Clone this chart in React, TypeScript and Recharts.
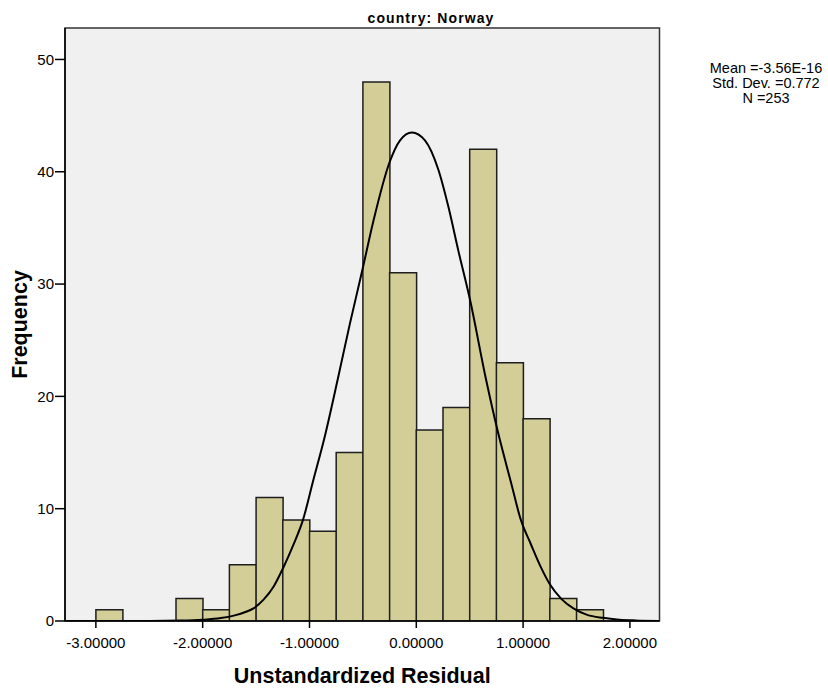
import React from 'react';
import {
  ComposedChart,
  Bar,
  Line,
  XAxis,
  YAxis,
  CartesianGrid,
  ReferenceArea,
  Label,
} from 'recharts';

// Histogram bins (lower edge of each 0.25-wide bin) and frequencies
const binStarts = [-3.0, -2.75, -2.5, -2.25, -2.0, -1.75, -1.5, -1.25, -1.0, -0.75, -0.5, -0.25, 0, 0.25, 0.5, 0.75, 1.0, 1.25, 1.5];
const binCounts = [1, 0, 0, 2, 1, 5, 11, 9, 8, 15, 48, 31, 17, 19, 42, 23, 18, 2, 1];

// Normal curve, points
const curveX = [-3.289, -2.5, -2.2, -2.0, -1.83, -1.7, -1.6, -1.52, -1.43, -1.334, -1.248, -1.15, -1.061, -0.968, -0.855, -0.736, -0.621, -0.511, -0.402, -0.252, -0.152, -0.041, 0.081, 0.206, 0.3, 0.393, 0.503, 0.653, 0.765, 0.885, 0.979, 1.07, 1.166, 1.252, 1.36, 1.475, 1.6, 1.748, 1.9, 2.05, 2.277];
const curveY = [0, 0.005, 0.035, 0.11, 0.26, 0.5, 0.8, 1.15, 1.9, 3.1, 4.7, 6.8, 9.0, 12.4, 16.5, 21.5, 26.5, 31.0, 35.6, 40.8, 42.8, 43.5, 42.8, 40.2, 36.9, 33.0, 28.6, 21.5, 16.8, 12.4, 9.0, 6.9, 4.8, 3.25, 1.95, 1.1, 0.55, 0.28, 0.12, 0.05, 0.01];

const xTicks = [-3, -2, -1, 0, 1, 2];
const yTicks = [0, 10, 20, 30, 40, 50];
const xDomain = [-3.289, 2.277];
const yDomain = [0, 52.8];

const titleText = 'country: Norway';
const statsLines = ['Mean =-3.56E-16', 'Std. Dev. =0.772', 'N =253'];
const xTitle = 'Unstandardized Residual';
const yTitle = 'Frequency';

const binData = binStarts.map((b, i) => ({ bin: String(b), count: binCounts[i] }));
const curveData = curveX.map((x, i) => ({ x, y: curveY[i] }));

const FONT = '"Liberation Sans", Arial, Helvetica, sans-serif';

export default function App() {
  return (
    <div style={{ position: 'absolute', left: 0, top: 0, width: 828, height: 688, background: '#fff', fontFamily: FONT }}>
      <ComposedChart
        width={828}
        height={688}
        data={binData}
        margin={{ top: 28, right: 168.5, bottom: 0, left: 0 }}
        barCategoryGap={0}
        barGap={0}
      >
        <CartesianGrid xAxisId="num" fill="#F0F0F0" horizontal={false} vertical={false} />
        <XAxis
          xAxisId="bin"
          dataKey="bin"
          type="category"
          hide
          orientation="top"
          height={0}
          padding={{ left: 30.9, right: 56.3 }}
        />
        <XAxis
          xAxisId="num"
          dataKey="x"
          type="number"
          domain={xDomain}
          allowDataOverflow
          ticks={xTicks}
          tickFormatter={(v) => Number(v).toFixed(5)}
          height={67}
          tickSize={7}
          tickMargin={9}
          tick={{ fontSize: 15, fill: '#000' }}
          tickLine={{ stroke: '#000', strokeWidth: 1.5 }}
          axisLine={{ stroke: '#000', strokeWidth: 1.5 }}
        >
          <Label
            content={(props: any) => {
              const vb = props.viewBox || { x: 65, y: 621, width: 594.5, height: 67 };
              return (
                <text
                  x={vb.x + vb.width / 2}
                  y={vb.y + vb.height - 5}
                  textAnchor="middle"
                  fontSize={21.5}
                  fontWeight="bold"
                  fill="#000"
                >
                  {xTitle}
                </text>
              );
            }}
          />
        </XAxis>
        <YAxis
          type="number"
          domain={yDomain}
          allowDataOverflow
          ticks={yTicks}
          width={65}
          tickSize={10}
          tickMargin={1}
          tick={{ fontSize: 15, fill: '#000' }}
          tickLine={{ stroke: '#000', strokeWidth: 1.5 }}
          axisLine={{ stroke: '#000', strokeWidth: 1.5 }}
        >
          <Label
            content={(props: any) => {
              const vb = props.viewBox || { x: 0, y: 28, width: 65, height: 593 };
              const cx = vb.x + 20;
              const cy = vb.y + vb.height / 2;
              return (
                <text
                  x={cx}
                  y={cy}
                  transform={`rotate(-90, ${cx}, ${cy})`}
                  textAnchor="middle"
                  dominantBaseline="central"
                  fontSize={21.5}
                  fontWeight="bold"
                  fill="#000"
                >
                  {yTitle}
                </text>
              );
            }}
          />
        </YAxis>
        <Bar
          xAxisId="bin"
          dataKey="count"
          fill="#D3CE97"
          stroke="#1e1e1e"
          strokeWidth={1.5}
          isAnimationActive={false}
        />
        <Line
          xAxisId="num"
          data={curveData}
          dataKey="y"
          type="monotone"
          stroke="#000"
          strokeWidth={2}
          dot={false}
          activeDot={false}
          isAnimationActive={false}
        />
        <ReferenceArea
          xAxisId="num"
          x1={xDomain[0]}
          x2={xDomain[1]}
          y1={yDomain[0]}
          y2={yDomain[1]}
          fill="none"
          fillOpacity={0}
          stroke="#333"
          strokeWidth={1.5}
          ifOverflow="visible"
        />
      </ComposedChart>
      <svg
        width={828}
        height={688}
        style={{ position: 'absolute', left: 0, top: 0, pointerEvents: 'none' }}
      >
        <text x={431} y={23} textAnchor="middle" fontSize={14} fontWeight="bold" letterSpacing={1.1} fill="#000">
          {titleText}
        </text>
        {statsLines.map((s, i) => (
          <text key={s} x={766} y={73 + i * 15} textAnchor="middle" fontSize={14.5} fill="#000">
            {s}
          </text>
        ))}
      </svg>
    </div>
  );
}
